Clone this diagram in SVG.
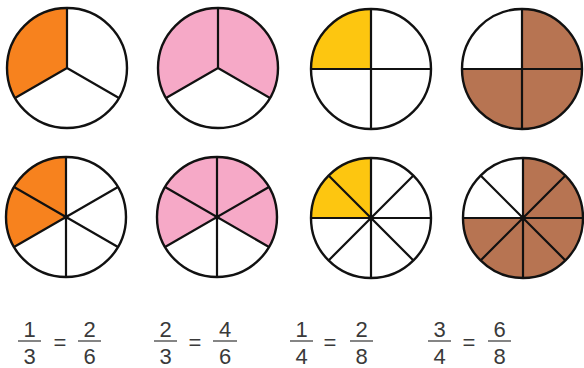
<svg xmlns="http://www.w3.org/2000/svg" width="584" height="368" viewBox="0 0 584 368">
<style>
.o{fill:#F7821E}.p{fill:#F6A9C7}.y{fill:#FDC610}.b{fill:#B77452}
.ln{stroke:#111;stroke-width:2.2;fill:none}
.rim{stroke:#111;stroke-width:2.4;fill:none}
.t{font-family:"Liberation Sans",Arial,sans-serif;font-size:22px;fill:#3a3a3a;text-anchor:middle}
.bar{stroke:#666;stroke-width:1.6}
</style>
<rect width="584" height="368" fill="#fff"/>
<g id="pie-1-3">
<path class="o" d="M67,68 L67,8 A60,60 0 0,0 15.04,98 Z"/>
<path class="ln" d="M67,68 V8 M67,68 L15.04,98 M67,68 L118.96,98"/>
<circle class="rim" cx="67" cy="68" r="60"/>
</g>
<g id="pie-2-3">
<path class="p" d="M218,68 L166.04,98 A60,60 0 1,1 269.96,98 Z"/>
<path class="ln" d="M218,68 V8 M218,68 L166.04,98 M218,68 L269.96,98"/>
<circle class="rim" cx="218" cy="68" r="60"/>
</g>
<g id="pie-1-4">
<path class="y" d="M371,69 L371,9 A60,60 0 0,0 311,69 Z"/>
<path class="ln" d="M371,9 V129 M311,69 H431"/>
<circle class="rim" cx="371" cy="69" r="60"/>
</g>
<g id="pie-3-4">
<path class="b" d="M522,69 L522,9 A60,60 0 1,1 462,69 Z"/>
<path class="ln" d="M522,9 V129 M462,69 H582"/>
<circle class="rim" cx="522" cy="69" r="60"/>
</g>
<g id="pie-2-6">
<path class="o" d="M66,217 L66,157 A60,60 0 0,0 14.04,247 Z"/>
<path class="ln" d="M66,157 V277 M14.04,187 L117.96,247 M14.04,247 L117.96,187"/>
<circle class="rim" cx="66" cy="217" r="60"/>
<circle cx="66" cy="217" r="2.5" fill="#111"/>
</g>
<g id="pie-4-6">
<path class="p" d="M217,217 L165.04,247 A60,60 0 1,1 268.96,247 Z"/>
<path class="ln" d="M217,157 V277 M165.04,187 L268.96,247 M165.04,247 L268.96,187"/>
<circle class="rim" cx="217" cy="217" r="60"/>
<circle cx="217" cy="217" r="2.5" fill="#111"/>
</g>
<g id="pie-2-8">
<path class="y" d="M371,218 L371,158 A60,60 0 0,0 311,218 Z"/>
<path class="ln" d="M371,158 V278 M311,218 H431 M328.57,175.57 L413.43,260.43 M328.57,260.43 L413.43,175.57"/>
<circle class="rim" cx="371" cy="218" r="60"/>
<circle cx="371" cy="218" r="2.5" fill="#111"/>
</g>
<g id="pie-6-8">
<path class="b" d="M523,218 L523,158 A60,60 0 1,1 463,218 Z"/>
<path class="ln" d="M523,158 V278 M463,218 H583 M480.57,175.57 L565.43,260.43 M480.57,260.43 L565.43,175.57"/>
<circle class="rim" cx="523" cy="218" r="60"/>
<circle cx="523" cy="218" r="2.5" fill="#111"/>
</g>
<g id="eq-1">
<text class="t" x="29.5" y="337">1</text><line class="bar" x1="18" y1="341" x2="41" y2="341"/><text class="t" x="29.5" y="364">3</text>
<text class="t" x="60" y="350">=</text>
<text class="t" x="89.5" y="337">2</text><line class="bar" x1="78" y1="341" x2="101" y2="341"/><text class="t" x="89.5" y="364">6</text>
</g>
<g id="eq-2">
<text class="t" x="165.5" y="337">2</text><line class="bar" x1="154" y1="341" x2="177" y2="341"/><text class="t" x="165.5" y="364">3</text>
<text class="t" x="195" y="350">=</text>
<text class="t" x="225" y="337">4</text><line class="bar" x1="213" y1="341" x2="237" y2="341"/><text class="t" x="225" y="364">6</text>
</g>
<g id="eq-3">
<text class="t" x="301.5" y="337">1</text><line class="bar" x1="290" y1="341" x2="313" y2="341"/><text class="t" x="301.5" y="364">4</text>
<text class="t" x="330" y="350">=</text>
<text class="t" x="361.5" y="337">2</text><line class="bar" x1="350" y1="341" x2="373" y2="341"/><text class="t" x="361.5" y="364">8</text>
</g>
<g id="eq-4">
<text class="t" x="439.5" y="337">3</text><line class="bar" x1="428" y1="341" x2="451" y2="341"/><text class="t" x="439.5" y="364">4</text>
<text class="t" x="469" y="350">=</text>
<text class="t" x="499.5" y="337">6</text><line class="bar" x1="488" y1="341" x2="511" y2="341"/><text class="t" x="499.5" y="364">8</text>
</g>
</svg>
